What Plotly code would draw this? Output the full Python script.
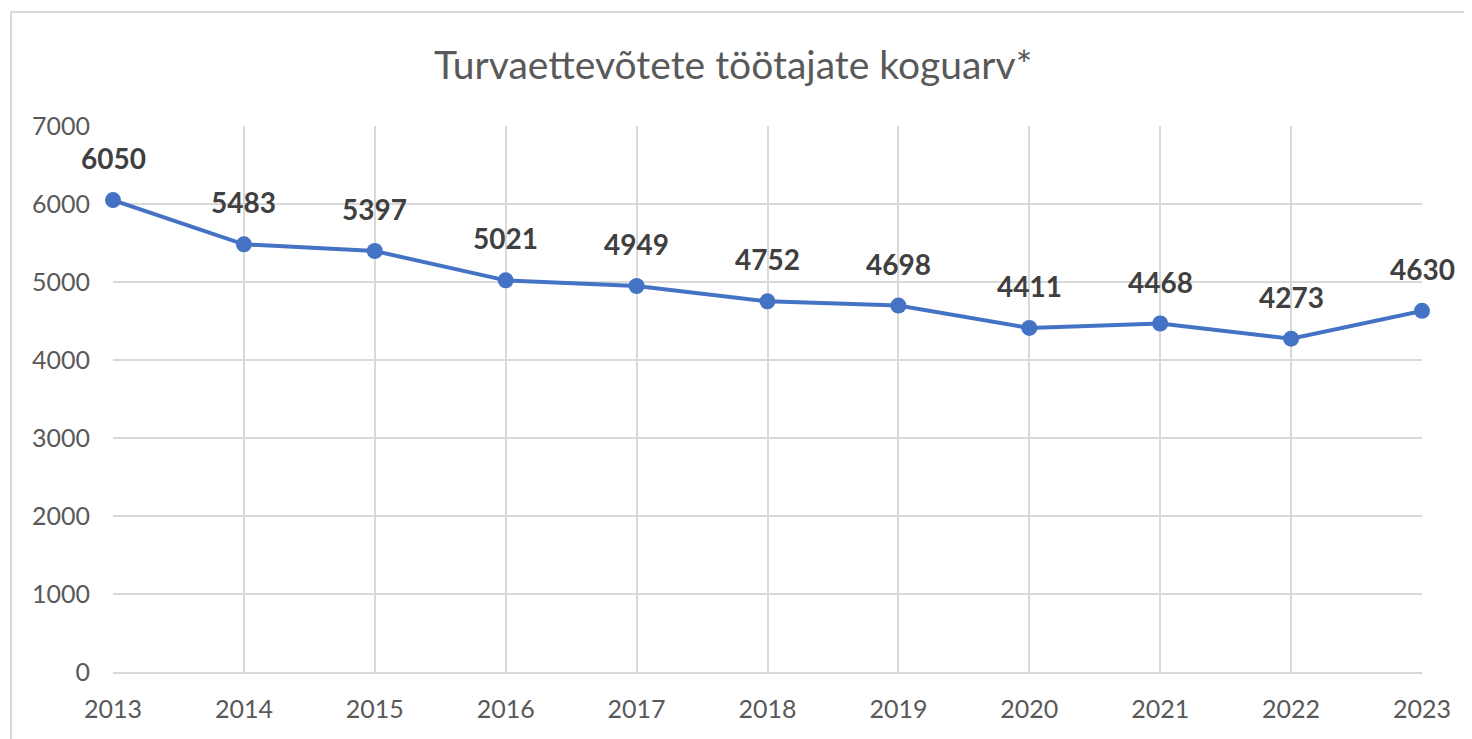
import plotly.graph_objects as go

years = [2013, 2014, 2015, 2016, 2017, 2018, 2019, 2020, 2021, 2022, 2023]
workers = [6050, 5483, 5397, 5021, 4949, 4752, 4698, 4411, 4468, 4273, 4630]
title_text = "Turvaettevõtete töötajate koguarv*"
y_ticks = [0, 1000, 2000, 3000, 4000, 5000, 6000, 7000]

FONT = "Lato, Carlito, Open Sans, sans-serif"
BLUE = "#4472C4"
GRID = "#D9D9D9"
TXT = "#595959"

fig = go.Figure()
fig.add_trace(go.Scatter(
    x=years, y=workers, mode="lines+markers",
    line=dict(color=BLUE, width=4),
    marker=dict(color=BLUE, size=16),
    cliponaxis=False, hoverinfo="skip", showlegend=False,
))

for xv, yv in zip(years, workers):
    fig.add_annotation(x=xv, y=yv, text=f"<b>{yv}</b>", showarrow=False,
                       yshift=42, font=dict(family=FONT, size=28, color="#404040"))

fig.add_shape(type="rect", xref="paper", yref="paper",
              x0=-0.0779, x1=1.3, y0=-0.3, y1=1.2088,
              line=dict(color=GRID, width=2), fillcolor="rgba(0,0,0,0)", layer="below")

fig.update_layout(
    width=1472, height=739,
    margin=dict(l=105, r=58, t=118, b=75),
    paper_bgcolor="white", plot_bgcolor="white",
    title=dict(text=title_text, x=0.4737, xanchor="center", xref="paper",
               y=1 - 57 / 739, yanchor="middle",
               font=dict(family=FONT, size=39, color=TXT)),
    xaxis=dict(range=[2013, 2023], tickvals=years, ticktext=[str(y) for y in years],
               showgrid=True, gridcolor=GRID, gridwidth=2,
               showline=True, linecolor=GRID, linewidth=2, mirror=False,
               zeroline=False, ticks="", ticklabelstandoff=14,
               tickfont=dict(family=FONT, size=25, color=TXT)),
    yaxis=dict(range=[0, 7000], tickvals=y_ticks,
               showgrid=True, gridcolor=GRID, gridwidth=2,
               showline=False, zeroline=False, ticks="", ticklabelstandoff=22,
               tickfont=dict(family=FONT, size=25, color=TXT)),
)

fig.write_html("out.html")
